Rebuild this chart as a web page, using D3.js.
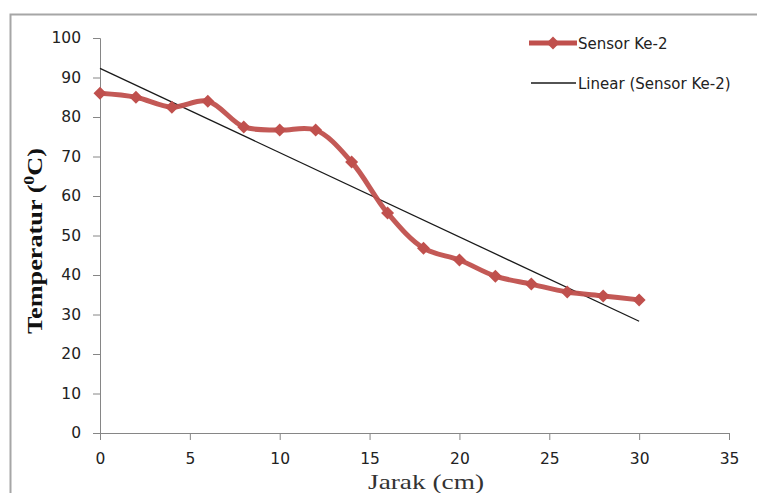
<!DOCTYPE html>
<html>
<head>
<meta charset="utf-8">
<script src="https://cdn.jsdelivr.net/npm/d3@7"></script>
<style>
body { margin: 0; background: #fff; }
</style>
</head>
<body>
<div class="canvas"></div>
<script>
var width = 757,
    height = 493;

// jarak (cm) and temperatur
var jarak = [0, 2, 4, 6, 8, 10, 12, 14, 16, 18, 20, 22, 24, 26, 28, 30];
var temperatur = [86, 85, 82.5, 84, 77.5, 76.7, 76.7, 68.6, 55.7, 46.8, 43.8, 39.7, 37.7, 35.7, 34.7, 33.7];
var xTicks = [0, 5, 10, 15, 20, 25, 30, 35];
var yTicks = [0, 10, 20, 30, 40, 50, 60, 70, 80, 90, 100];

var svg = d3.select(".canvas").append("svg")
    .attr("width", width)
    .attr("height", height);

// chart frame
svg.append("rect")
    .attr("x", 10.5)
    .attr("y", 14.5)
    .attr("width", 800)
    .attr("height", 600)
    .style("fill", "none")
    .style("stroke", "#a6a6a6")
    .style("stroke-width", 2);

var x = d3.scaleLinear().domain([0, 35]).range([100, 729]);
var y = d3.scaleLinear().domain([0, 100]).range([433, 38]);

var tickFont = "'DejaVu Sans', sans-serif";

// y axis
var yAxis = svg.append("g")
    .attr("transform", "translate(100,0)")
    .call(d3.axisLeft(y).tickValues(yTicks).tickSize(7).tickPadding(12));
yAxis.select(".domain").attr("stroke", "#868686");
yAxis.selectAll(".tick line").attr("stroke", "#868686");
yAxis.selectAll("text")
    .style("font-family", tickFont)
    .style("font-size", "15.5px")
    .style("fill", "#222");

// x axis
var xAxis = svg.append("g")
    .attr("transform", "translate(0,433)")
    .call(d3.axisBottom(x).tickValues(xTicks).tickSize(7).tickPadding(13));
xAxis.select(".domain").attr("stroke", "#868686");
xAxis.selectAll(".tick line").attr("stroke", "#868686");
xAxis.selectAll("text")
    .style("font-family", tickFont)
    .style("font-size", "15.5px")
    .style("fill", "#222");

// linear trendline (least squares over the series)
var n = jarak.length;
var mx = d3.mean(jarak), my = d3.mean(temperatur);
var sxy = 0, sxx = 0;
for (var i = 0; i < n; i++) {
    sxy += (jarak[i] - mx) * (temperatur[i] - my);
    sxx += (jarak[i] - mx) * (jarak[i] - mx);
}
var slope = sxy / sxx;
var intercept = my - slope * mx;
var x0 = d3.min(jarak), x1 = d3.max(jarak);

svg.append("line")
    .attr("x1", x(x0))
    .attr("y1", y(intercept + slope * x0))
    .attr("x2", x(x1))
    .attr("y2", y(intercept + slope * x1))
    .style("stroke", "#1a1a1a")
    .style("stroke-width", 1.3);

// series line
var red = "#c0504d";
var pts = jarak.map(function (d, i) { return [d, temperatur[i]]; });
var line = d3.line()
    .x(function (d) { return x(d[0]); })
    .y(function (d) { return y(d[1]); })
    .curve(d3.curveCatmullRom.alpha(0.5));

svg.append("path")
    .datum(pts)
    .attr("d", line)
    .style("fill", "none")
    .style("stroke", red)
    .style("stroke-width", 5)
    .style("stroke-linejoin", "round")
    .style("opacity", 0.95);

// square diamond marker
var diamond = "M0,-6.5L6.5,0L0,6.5L-6.5,0Z";
svg.selectAll(".pt")
    .data(pts)
    .enter().append("path")
    .attr("class", "pt")
    .attr("transform", function (d) { return "translate(" + x(d[0]) + "," + y(d[1]) + ")"; })
    .attr("d", diamond)
    .style("fill", red);

// legend
var legend = svg.append("g");
legend.append("line")
    .attr("x1", 529).attr("y1", 43).attr("x2", 577).attr("y2", 43)
    .style("stroke", red).style("stroke-width", 5);
legend.append("path")
    .attr("transform", "translate(553,43)")
    .attr("d", diamond)
    .style("fill", red);
legend.append("text")
    .attr("x", 578).attr("y", 49)
    .text("Sensor Ke-2")
    .style("font-family", tickFont).style("font-size", "15px").style("fill", "#222");

legend.append("line")
    .attr("x1", 531).attr("y1", 83).attr("x2", 576).attr("y2", 83)
    .style("stroke", "#1a1a1a").style("stroke-width", 1.3);
legend.append("text")
    .attr("x", 578).attr("y", 89)
    .text("Linear (Sensor Ke-2)")
    .style("font-family", tickFont).style("font-size", "15px").style("fill", "#222");

// axis titles
var serif = "'Liberation Serif', 'Times New Roman', serif";
var yTitle = svg.append("text")
    .attr("transform", "translate(42,241) rotate(-90)")
    .attr("text-anchor", "middle")
    .attr("textLength", 186)
    .attr("lengthAdjust", "spacingAndGlyphs")
    .style("font-family", serif)
    .style("font-size", "22px")
    .style("font-weight", "bold")
    .style("fill", "#111");
yTitle.append("tspan").text("Temperatur (");
yTitle.append("tspan").attr("dy", -8).style("font-size", "15px").text("0");
yTitle.append("tspan").attr("dy", 8).text("C)");

svg.append("text")
    .attr("x", 426)
    .attr("y", 489)
    .attr("text-anchor", "middle")
    .attr("textLength", 116)
    .attr("lengthAdjust", "spacingAndGlyphs")
    .style("font-family", serif)
    .style("font-size", "22px")
    .style("font-weight", "normal")
    .style("fill", "#333")
    .text("Jarak (cm)");
</script>
</body>
</html>
